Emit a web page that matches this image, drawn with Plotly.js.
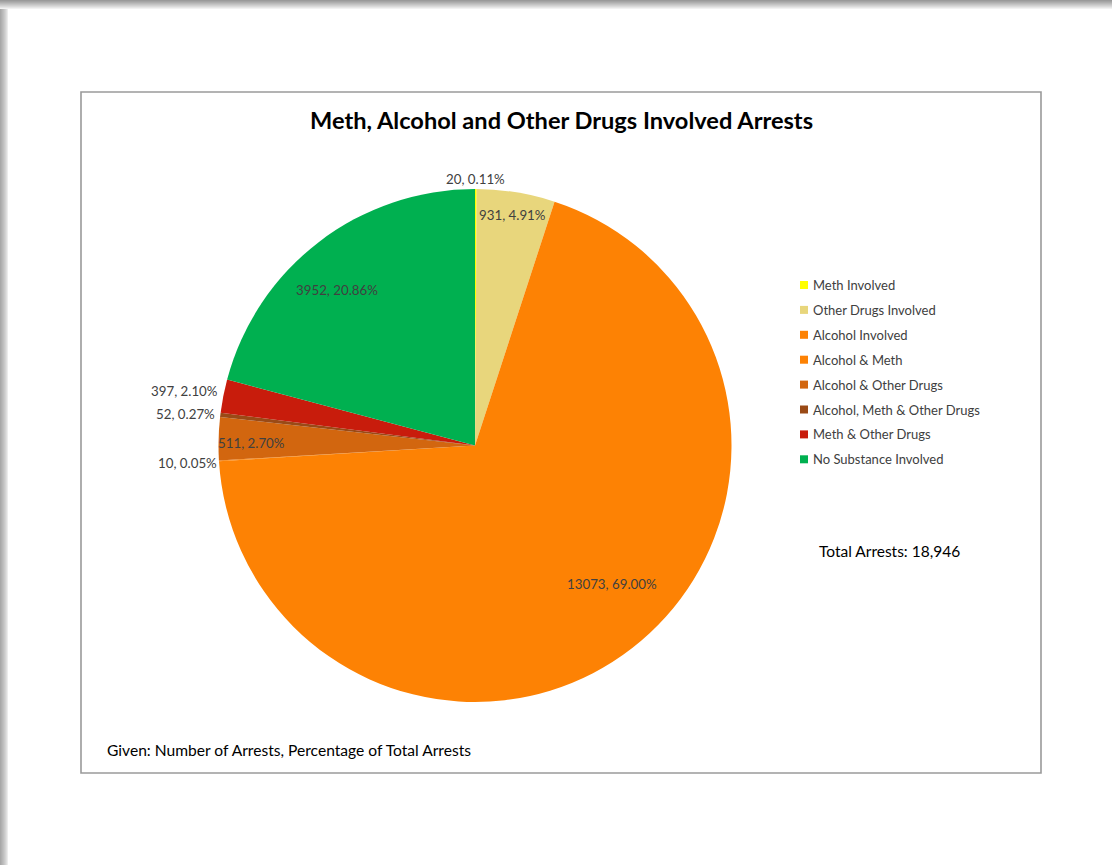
<!DOCTYPE html>
<html>
<head>
<meta charset="utf-8">
<script src="https://cdn.plot.ly/plotly-3.0.1.min.js"></script>
<style>
  html, body { margin: 0; padding: 0; background: #ffffff; }
  #chart { width: 1112px; height: 865px; }
</style>
</head>
<body>
<div id="chart"></div>
<script>
// ---- Data ----
const categories = [
  "Meth Involved",
  "Other Drugs Involved",
  "Alcohol Involved",
  "Alcohol & Meth",
  "Alcohol & Other Drugs",
  "Alcohol, Meth & Other Drugs",
  "Meth & Other Drugs",
  "No Substance Involved"
];
const arrests = [20, 931, 13073, 10, 511, 52, 397, 3952];
const percentLabels = ["0.11%", "4.91%", "69.00%", "0.05%", "2.70%", "0.27%", "2.10%", "20.86%"];
const totalArrestsText = "18,946";

// ---- Style ----
const colors = ["#FFFF00", "#E8D67C", "#FD8204", "#FD8204", "#D2660F", "#9A4A16", "#C81C0C", "#00B050"];
const W = 1112, H = 865;
const cx = 475, cy = 445.5, R = 256.5;          // pie centre / radius in px
// label placement: radial factor, anchor and small angular nudge per slice
const labelR = [1.04, 0.91, 0.76, 1.0, 0.87, 1.015, 1.015, 0.81];
const labelAnchor = ["center", "center", "center", "right", "center", "right", "right", "center"];
const labelDA = [0, 0, -7, -0.5, -1, 0, 1, -4];

const FONT = "Lato, 'Open Sans', sans-serif";
const px = x => x / W;
const py = y => 1 - y / H;

const total = arrests.reduce((a, b) => a + b, 0);

const trace = {
  type: "pie",
  labels: categories,
  values: arrests,
  sort: false,
  direction: "clockwise",
  rotation: 0,
  marker: { colors: colors, line: { width: 0 } },
  textinfo: "none",
  hoverinfo: "label+value+percent",
  showlegend: false,
  domain: { x: [px(cx - R), px(cx + R)], y: [py(cy + R), py(cy - R)] }
};

const annotations = [];
// data labels computed from slice mid-angles
let cum = 0;
arrests.forEach((v, i) => {
  const mid = (cum + v / 2) / total * 360 + labelDA[i];
  cum += v;
  const a = mid * Math.PI / 180;
  const r = R * labelR[i];
  const x = cx + r * Math.sin(a);
  const y = cy - r * Math.cos(a);
  annotations.push({
    xref: "paper", yref: "paper", x: px(x), y: py(y),
    xanchor: labelAnchor[i], yanchor: "middle", showarrow: false,
    text: v + ", " + percentLabels[i],
    font: { family: FONT, size: 13.3, color: "#404040" }
  });
});

// title
annotations.push({
  xref: "paper", yref: "paper", x: px(561), y: py(120), xanchor: "center", yanchor: "middle",
  showarrow: false, text: "<b>Meth, Alcohol and Other Drugs Involved Arrests</b>",
  font: { family: FONT, size: 23.6, color: "#000000" }
});
// total
annotations.push({
  xref: "paper", yref: "paper", x: px(817), y: py(551), xanchor: "left", yanchor: "middle",
  showarrow: false, text: "Total Arrests: " + totalArrestsText,
  font: { family: FONT, size: 15.5, color: "#000000" }
});
// footnote
annotations.push({
  xref: "paper", yref: "paper", x: px(105), y: py(750), xanchor: "left", yanchor: "middle",
  showarrow: false, text: "Given: Number of Arrests, Percentage of Total Arrests",
  font: { family: FONT, size: 15.6, color: "#000000" }
});

const shapes = [];
// page shadow (top and left)
const topShades = ["#9a9a9a", "#a4a4a4", "#aeaeae", "#b9b9b9", "#c4c4c4", "#cfcfcf", "#dadada", "#e6e6e6", "#f2f2f2"];
topShades.forEach((c, i) => {
  shapes.push({ type: "rect", xref: "paper", yref: "paper", layer: "below",
    x0: 0, x1: 1, y0: py(i + 1), y1: py(i), fillcolor: c, line: { width: 0 } });
});
const leftShades = ["#a8a8a8", "#b0b0b0", "#b8b8b8", "#c0c0c0", "#c9c9c9", "#d3d3d3", "#dedede", "#ececec"];
leftShades.forEach((c, i) => {
  shapes.push({ type: "rect", xref: "paper", yref: "paper", layer: "below",
    x0: px(i), x1: px(i + 1), y0: 0, y1: py(9), fillcolor: c, line: { width: 0 } });
});
// chart area border
shapes.push({ type: "rect", xref: "paper", yref: "paper", layer: "below",
  x0: px(81), x1: px(1041), y0: py(773), y1: py(92),
  fillcolor: "rgba(0,0,0,0)", line: { color: "#9a9a9a", width: 1.6 } });

// custom legend
categories.forEach((c, i) => {
  const y = 285 + i * 24.9;
  shapes.push({ type: "rect", xref: "paper", yref: "paper",
    x0: px(800), x1: px(808), y0: py(y + 4), y1: py(y - 4),
    fillcolor: colors[i], line: { width: 0 } });
  annotations.push({
    xref: "paper", yref: "paper", x: px(811), y: py(y), xanchor: "left", yanchor: "middle",
    showarrow: false, text: c,
    font: { family: FONT, size: 13, color: "#404040" }
  });
});

const layout = {
  width: W, height: H,
  margin: { l: 0, r: 0, t: 0, b: 0 },
  paper_bgcolor: "#ffffff",
  showlegend: false,
  annotations: annotations,
  shapes: shapes
};

Plotly.newPlot("chart", [trace], layout, { displayModeBar: false, staticPlot: true });
</script>
</body>
</html>
